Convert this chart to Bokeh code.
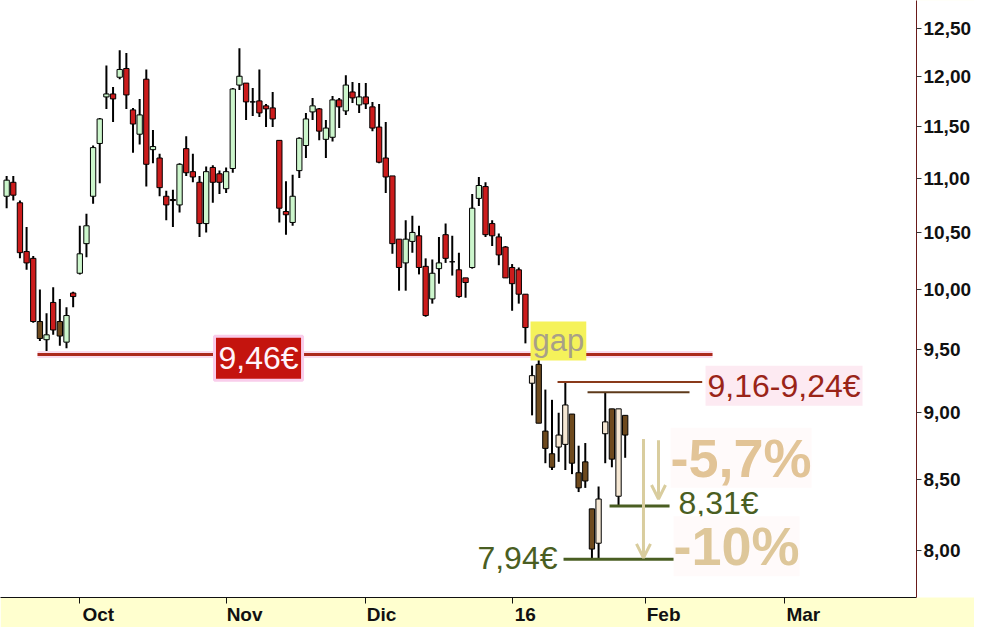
import pandas as pd
from bokeh.plotting import figure
from bokeh.models import (Range1d, FixedTicker, CustomJSTickFormatter, Label,
                          Arrow, OpenHead, ColumnDataSource)
from bokeh.embed import file_html
from bokeh.resources import INLINE

# ---------------- data ----------------
start_date = "2015-09-16"
end_date = "2016-03-31"
holidays = ["2015-12-25", "2016-01-01"]

opens = [10.83, 10.96, 10.77, 10.33, 10.27, 9.73, 9.58, 9.89, 9.73, 9.56, 9.97,
         10.14, 10.40, 10.83, 11.33, 11.79, 11.82, 11.99, 12.08, 11.66, 11.42,
         11.97, 11.27, 11.19, 10.83, 10.80, 10.75, 11.28, 11.06, 10.96, 10.58,
         11.10, 11.04, 10.90, 11.09, 11.91, 11.93, 11.74, 11.75, 11.70, 11.68,
         11.36, 10.69, 10.59, 11.07, 11.31, 11.64, 11.67, 11.37, 11.39, 11.76,
         11.65, 11.84, 11.71, 11.79, 11.69, 11.49, 11.19, 11.02, 10.44, 10.23,
         10.42, 10.47, 10.20, 9.92, 10.18, 10.48, 10.24, 10.17, 10.10, 10.19,
         10.81, 10.92, 10.58, 10.46, 10.37, 10.19, 10.17, 9.96, 9.23, 9.38,
         8.86, 8.69, 8.74, 8.76, 8.99, 8.55, 8.63, 8.29, 8.05, 8.84, 9.03,
         8.38, 8.98]
highs = [11.02, 11.02, 10.79, 10.55, 10.29, 10.00, 9.80, 10.02, 9.92, 9.85, 9.98,
         10.56, 10.67, 11.31, 11.58, 12.11, 11.89, 12.27, 12.24, 11.68, 11.77,
         12.07, 11.46, 11.23, 10.88, 10.89, 11.14, 11.40, 11.23, 11.02, 11.11,
         11.12, 11.07, 11.10, 11.88, 12.29, 11.93, 11.88, 12.07, 11.72, 11.84,
         11.36, 10.97, 11.03, 11.39, 11.63, 11.78, 11.68, 11.56, 11.80, 11.78,
         12.01, 11.94, 11.93, 11.93, 11.74, 11.72, 11.54, 11.02, 10.44, 10.61,
         10.65, 10.56, 10.27, 10.26, 10.46, 10.58, 10.47, 10.32, 10.10, 10.85,
         11.01, 10.96, 10.61, 10.49, 10.38, 10.22, 10.19, 9.96, 9.37, 9.45,
         9.18, 9.10, 9.00, 9.24, 8.99, 8.75, 8.77, 8.29, 8.45, 9.16, 9.03,
         9.03, 8.98]
lows = [10.72, 10.79, 10.27, 10.17, 9.72, 9.57, 9.46, 9.62, 9.53, 9.51, 9.85,
        10.13, 10.28, 10.76, 10.95, 11.67, 11.54, 11.97, 11.67, 11.24, 11.32,
        10.92, 11.14, 10.83, 10.61, 10.55, 10.68, 11.02, 10.96, 10.46, 10.50,
        10.77, 10.85, 10.86, 11.05, 11.86, 11.56, 11.60, 11.59, 11.49, 11.49,
        10.59, 10.48, 10.56, 11.00, 11.19, 11.56, 11.36, 11.19, 11.35, 11.48,
        11.61, 11.73, 11.63, 11.67, 11.45, 11.14, 10.86, 10.31, 9.99, 9.99,
        10.32, 10.13, 9.77, 9.88, 10.05, 10.23, 10.12, 9.93, 9.93, 10.18,
        10.74, 10.46, 10.38, 10.21, 10.10, 9.82, 9.88, 9.55, 8.98, 8.92,
        8.62, 8.57, 8.63, 8.57, 8.54, 8.41, 8.44, 7.94, 7.94, 8.62, 8.59,
        8.31, 8.66]
closes = [10.98, 10.84, 10.32, 10.23, 9.73, 9.59, 9.62, 9.66, 9.61, 9.78, 9.94,
          10.31, 10.56, 11.29, 11.57, 11.82, 11.77, 12.07, 11.81, 11.52, 11.61,
          11.13, 11.30, 10.91, 10.75, 10.79, 11.13, 11.05, 11.01, 10.58, 11.06,
          10.96, 10.96, 11.06, 11.87, 12.00, 11.74, 11.74, 11.63, 11.67, 11.57,
          10.72, 10.66, 10.83, 11.38, 11.57, 11.70, 11.45, 11.48, 11.76, 11.69,
          11.91, 11.78, 11.79, 11.72, 11.48, 11.15, 11.01, 10.40, 10.19, 10.44,
          10.50, 10.19, 9.78, 10.14, 10.23, 10.27, 10.24, 9.94, 10.06, 10.72,
          10.93, 10.48, 10.47, 10.30, 10.10, 10.05, 9.96, 9.68, 9.29, 8.92,
          8.73, 8.59, 8.83, 9.06, 8.62, 8.44, 8.49, 8.01, 8.36, 8.93, 8.65,
          9.03, 8.83]

month_keys = ["2015-10", "2015-11", "2015-12", "2016-01", "2016-02", "2016-03"]
month_labels = ["Oct", "Nov", "Dic", "16", "Feb", "Mar"]
price_ticks = [8.0, 8.5, 9.0, 9.5, 10.0, 10.5, 11.0, 11.5, 12.0, 12.5]

highlight_dates = ["2015-09-23", "2015-09-28"]
gap_date = "2016-01-07"

support = 9.46
resistance_low = 9.16
resistance_high = 9.24
low_1 = 7.94
low_2 = 8.31
last_price = 8.83
drop_labels = ["-5,7%", "-10%"]

# ---------------- calendar / positions ----------------
cal = pd.bdate_range(start_date, end_date)
cal = cal[~cal.isin(pd.to_datetime(holidays))]
n = len(opens)
dates = cal[:n]
idx = list(range(n))
ym = list(cal.strftime("%Y-%m"))
month_pos = [ym.index(k) for k in month_keys]

hl = set(pd.to_datetime(highlight_dates))
gap_ts = pd.Timestamp(gap_date)
UP, DOWN = "#CCF6CC", "#CC1C1C"
UP_T, DOWN_T = "#F6E8D4", "#6E4A1E"
colors = []
for d, o, c in zip(dates, opens, closes):
    tinted = (d in hl) or (d >= gap_ts)
    if c >= o:
        colors.append(UP_T if tinted else UP)
    else:
        colors.append(DOWN_T if tinted else DOWN)

src = ColumnDataSource(dict(
    x=idx,
    top=[max(o, c) for o, c in zip(opens, closes)],
    bottom=[min(o, c) for o, c in zip(opens, closes)],
    high=highs, low=lows, color=colors))

# ---------------- figure ----------------
p = figure(frame_width=916, frame_height=597,
           x_range=Range1d(-0.923, 136.80), y_range=Range1d(7.685, 12.803),
           y_axis_type="log", y_axis_location="right",
           output_backend="svg", toolbar_location=None,
           min_border_left=0, min_border_top=0,
           min_border_right=57, min_border_bottom=27)
p.background_fill_color = "white"
p.border_fill_color = "#FFFFCF"
p.outline_line_color = None
p.xgrid.visible = False
p.ygrid.visible = False

# y axis (right)
ya = p.yaxis[0]
ya.ticker = FixedTicker(ticks=price_ticks)
ya.formatter = CustomJSTickFormatter(code="return tick.toFixed(2).replace('.', ',');")
ya.major_label_text_font = "Liberation Sans"
ya.major_label_text_font_style = "bold"
ya.major_label_text_font_size = "19px"
ya.major_label_text_color = "#111111"
ya.major_label_standoff = 2
ya.major_tick_in = 0
ya.major_tick_out = 5
ya.minor_tick_line_color = None
ya.axis_line_color = "#6A1A1A"
ya.major_tick_line_color = "#333333"
try:
    ya.background_fill_color = "white"
except Exception:
    pass

# x axis: labels start just right of their tick (left aligned look)
BOLD_W = {"O": .778, "c": .556, "t": .333, "N": .722, "o": .611, "v": .556,
          "D": .722, "i": .278, "1": .556, "6": .556, "F": .611, "e": .556,
          "b": .611, "M": .833, "a": .556, "r": .389}
NBSP = "\u00a0"


def left_pad(s):
    w = sum(BOLD_W.get(ch, .556) for ch in s)
    k = int(round((w + 0.16) / 0.278))
    return NBSP * k + s


xa = p.xaxis[0]
xa.ticker = FixedTicker(ticks=month_pos)
xa.major_label_overrides = {pos: left_pad(lab) for pos, lab in zip(month_pos, month_labels)}
xa.major_label_text_font = "Liberation Sans"
xa.major_label_text_font_style = "bold"
xa.major_label_text_font_size = "19px"
xa.major_label_text_color = "#111111"
xa.major_label_standoff = 0
xa.major_tick_in = 0
xa.major_tick_out = 6
xa.minor_tick_line_color = None
xa.axis_line_color = "#111111"
xa.major_tick_line_color = "#111111"

# candles
p.segment(x0="x", y0="low", x1="x", y1="high", source=src,
          line_color="black", line_width=2)
p.vbar(x="x", width=0.8, top="top", bottom="bottom", source=src,
       fill_color="color", line_color="black", line_width=1)

# support 9.46 with faint pink halo
p.segment(x0=[4.64], y0=[support], x1=[106.13], y1=[support],
          line_color="#F9DCEE", line_width=7)
p.segment(x0=[4.64], y0=[support], x1=[106.13], y1=[support],
          line_color="#AC2A1C", line_width=3)

# resistance lines
p.segment(x0=[82.83], y0=[resistance_high], x1=[104.58], y1=[resistance_high],
          line_color="#8A3A1A", line_width=2)
p.segment(x0=[87.34], y0=[resistance_low], x1=[102.67], y1=[resistance_low],
          line_color="#5E3A1A", line_width=2)
# lows
p.segment(x0=[90.65], y0=[low_2], x1=[99.67], y1=[low_2],
          line_color="#4A5E22", line_width=3)
p.segment(x0=[83.73], y0=[low_1], x1=[100.87], y1=[low_1],
          line_color="#4A5E22", line_width=3)

FONT = "Liberation Sans"


def fmt(v):
    return f"{v:.2f}".replace(".", ",")


p.add_layout(Label(x=37.87, y=9.43, text=fmt(support) + "€", text_align="center",
                   text_baseline="middle", text_font=FONT, text_font_size="32px",
                   text_color="#FFF4FA", background_fill_color="#C4140E",
                   border_line_color="#F9CDEB", border_line_width=3, padding=4))
p.add_layout(Label(x=78.77, y=9.57, text="gap", text_align="left",
                   text_baseline="middle", text_font=FONT, text_font_size="31px",
                   text_color="#A8A088", background_fill_color="#F5F25A", padding=2))
p.add_layout(Label(x=105.08, y=9.21,
                   text=fmt(resistance_low) + "-" + fmt(resistance_high) + "€",
                   text_align="left", text_baseline="middle", text_font=FONT,
                   text_font_size="32px", text_color="#9A2418",
                   background_fill_color="#FDEAF2", padding=2))
p.add_layout(Label(x=101.02, y=8.33, text=fmt(low_2) + "€", text_align="left",
                   text_baseline="middle", text_font=FONT, text_font_size="32px",
                   text_color="#4A5E22"))
p.add_layout(Label(x=82.82, y=7.95, text=fmt(low_1) + "€", text_align="right",
                   text_baseline="middle", text_font=FONT, text_font_size="32px",
                   text_color="#4A5E22"))

p.add_layout(Label(x=99.82, y=8.66, text=drop_labels[0],
                   text_align="left", text_baseline="middle", text_font=FONT,
                   text_font_size="54px", text_font_style="bold",
                   text_color="#E2C497", background_fill_color="#FFFAFA"))
p.add_layout(Label(x=100.27, y=8.03, text=drop_labels[1],
                   text_align="left", text_baseline="middle", text_font=FONT,
                   text_font_size="54px", text_font_style="bold",
                   text_color="#DEC79A", background_fill_color="#FFFAFA"))

# arrows
p.add_layout(Arrow(end=OpenHead(size=14, line_color="#D9CD9E", line_width=3),
                   x_start=98.01, y_start=8.79, x_end=98.01, y_end=8.36,
                   line_color="#D9CD9E", line_width=3))
p.add_layout(Arrow(end=OpenHead(size=14, line_color="#D9CD9E", line_width=3),
                   x_start=95.75, y_start=8.80, x_end=95.75, y_end=7.95,
                   line_color="#D9CD9E", line_width=3))

open("out.html", "w").write(file_html(p, INLINE))
